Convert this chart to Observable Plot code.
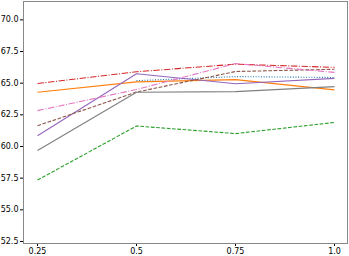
<!DOCTYPE html>
<html>
<head>
<meta charset="utf-8">
<script src="https://cdn.jsdelivr.net/npm/d3@7"></script>
<script src="https://cdn.jsdelivr.net/npm/@observablehq/plot@0.6"></script>
<style>
  html, body { margin: 0; padding: 0; background: #fff; }
  #chart svg { display: block; }
</style>
</head>
<body>
<div id="chart"></div>
<script>
const xValues = [0.25, 0.5, 0.75, 1.0];
const xTickLabels = ["0.25", "0.5", "0.75", "1.0"];
const yTicks = [52.5, 55.0, 57.5, 60.0, 62.5, 65.0, 67.5, 70.0];

const blueSeries   = [null, 65.2, 65.52, 65.45];
const orangeSeries = [64.28, 65.1, 65.28, 64.47];
const greenSeries  = [57.35, 61.62, 61.02, 61.9];
const redSeries    = [64.97, 65.9, 66.5, 66.25];
const purpleSeries = [60.85, 65.75, 64.95, 65.38];
const brownSeries  = [61.64, 64.3, 65.92, 66.1];
const pinkSeries   = [62.83, 64.5, 66.55, 65.85];
const graySeries   = [59.69, 64.28, 64.33, 64.73];

const series = [
  {values: blueSeries,   color: "#1f77b4", dash: "1,1.65"},
  {values: orangeSeries, color: "#ff7f0e", dash: null},
  {values: greenSeries,  color: "#2ca02c", dash: "3.7,1.6"},
  {values: redSeries,    color: "#d62728", dash: "6.4,1.6,1,1.6"},
  {values: purpleSeries, color: "#9467bd", dash: null},
  {values: brownSeries,  color: "#8c564b", dash: "3.7,1.6"},
  {values: pinkSeries,   color: "#e377c2", dash: "6.4,1.6,1,1.6"},
  {values: graySeries,   color: "#7f7f7f", dash: null}
];

const marks = [Plot.frame({stroke: "#888", strokeWidth: 1})];
for (const s of series) {
  const data = xValues.map((x, i) => ({x, y: s.values[i]}));
  marks.push(Plot.line(data, {
    x: "x", y: "y",
    stroke: s.color,
    strokeWidth: 1.1,
    strokeDasharray: s.dash ?? undefined,
    strokeLinecap: "butt",
    strokeLinejoin: "miter"
  }));
}

const chart = Plot.plot({
  width: 349,
  height: 256,
  marginTop: 1,
  marginBottom: 13,
  marginLeft: 23,
  marginRight: 2,
  style: {fontFamily: "DejaVu Sans", fontSize: "8px", background: "#fff", color: "#000"},
  x: {
    type: "linear",
    domain: [0.2146, 1.0328],
    ticks: xValues,
    tickFormat: (d) => xTickLabels[xValues.indexOf(d)],
    tickSize: 3,
    tickPadding: 2,
    label: null
  },
  y: {
    domain: [52.34, 71.45],
    ticks: yTicks,
    tickFormat: d3.format(".1f"),
    tickSize: 3,
    tickPadding: 2,
    label: null
  },
  marks
});
document.getElementById("chart").appendChild(chart);
</script>
</body>
</html>
